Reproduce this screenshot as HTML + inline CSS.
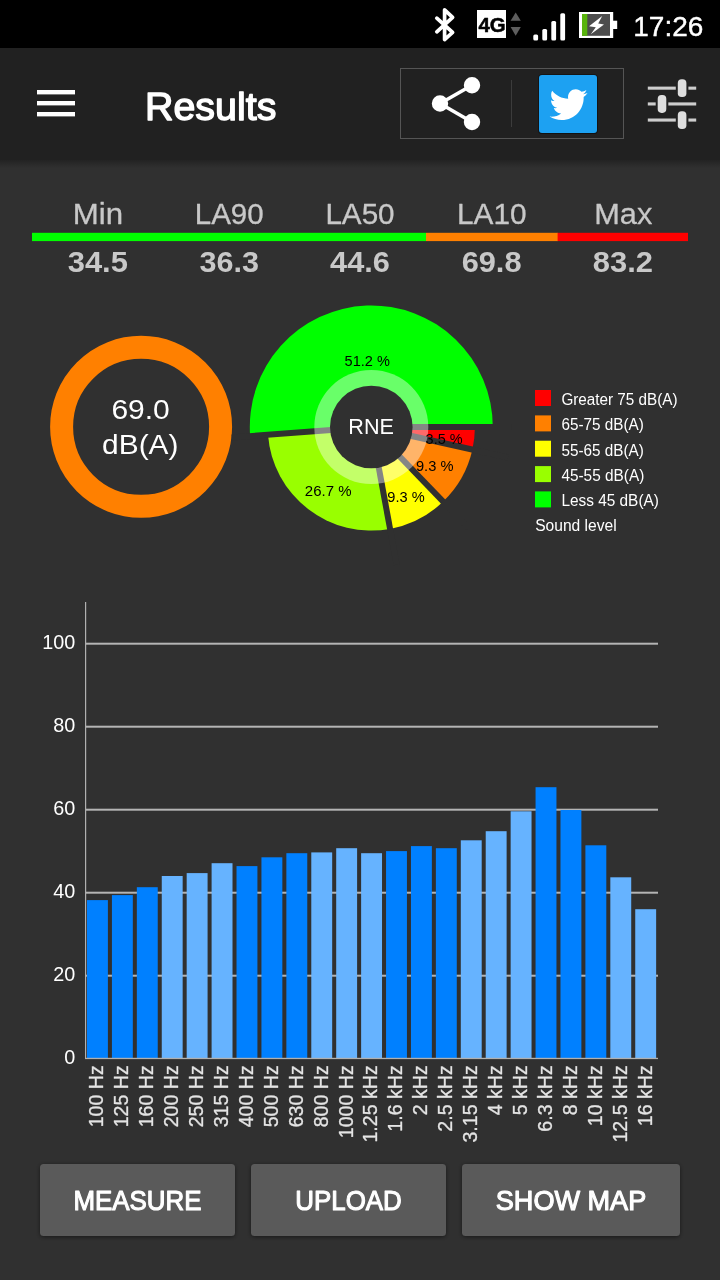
<!DOCTYPE html>
<html><head><meta charset="utf-8"><title>Results</title>
<style>
html,body{margin:0;padding:0;background:#303030;}
body{width:720px;height:1280px;overflow:hidden;}
svg{display:block;will-change:transform;font-family:"Liberation Sans",sans-serif;}
</style></head>
<body>
<svg width="720" height="1280" viewBox="0 0 720 1280">
<defs><linearGradient id="hshadow" x1="0" y1="0" x2="0" y2="1">
<stop offset="0" stop-color="#000" stop-opacity="0.28"/><stop offset="1" stop-color="#000" stop-opacity="0"/>
</linearGradient>
<filter id="bsh" x="-10%" y="-20%" width="120%" height="150%"><feGaussianBlur stdDeviation="2.2"/></filter></defs>
<rect x="0" y="0" width="720" height="1280" fill="#303030"/>
<g id="header">
<rect x="0" y="160" width="720" height="8" fill="url(#hshadow)"/>
<rect x="0" y="48" width="720" height="112" fill="#212121"/>
<rect x="37" y="90" width="38" height="4.4" fill="#fff"/>
<rect x="37" y="101" width="38" height="4.4" fill="#fff"/>
<rect x="37" y="112" width="38" height="4.4" fill="#fff"/>
<text x="145" y="120" font-size="39.4" fill="#fff" font-weight="normal" text-anchor="start" textLength="131.4" lengthAdjust="spacingAndGlyphs" stroke="#fff" stroke-width="1.4" stroke-linejoin="round">Results</text>
<rect x="400.5" y="68.5" width="223" height="70" fill="none" stroke="#555" stroke-width="1"/>
<rect x="511" y="80" width="1" height="47" fill="#3c3c3c"/>
<g stroke="#fff" stroke-width="3.6" fill="#fff"><line x1="440" y1="103.5" x2="472" y2="85.2"/><line x1="440" y1="103.5" x2="472" y2="122"/><circle cx="440" cy="103.5" r="6.4"/><circle cx="472" cy="85.2" r="6.4"/><circle cx="472" cy="122" r="6.4"/></g>
<rect x="538.2" y="74.3" width="59.6" height="59.8" rx="3.6" fill="#121212"/>
<rect x="539" y="75" width="58" height="58" rx="3" fill="#1da1f2"/>
<g id="bird" transform="translate(549.6,88.9) scale(1.58)"><path fill="#fff" d="M23.954 2.569c-.885.389-1.83.654-2.825.775 1.014-.611 1.794-1.574 2.163-2.723-.951.555-2.005.959-3.127 1.184-.896-.959-2.173-1.559-3.591-1.559-2.717 0-4.92 2.203-4.92 4.917 0 .39.045.765.127 1.124C7.691 6.094 4.066 4.13 1.64 1.161c-.427.722-.666 1.561-.666 2.475 0 1.71.87 3.213 2.188 4.096-.807-.026-1.566-.248-2.228-.616v.061c0 2.385 1.693 4.374 3.946 4.827-.413.111-.849.171-1.296.171-.314 0-.615-.03-.916-.086.631 1.953 2.445 3.377 4.604 3.417-1.68 1.319-3.809 2.105-6.102 2.105-.39 0-.779-.023-1.17-.067 2.189 1.394 4.768 2.209 7.557 2.209 9.054 0 13.999-7.496 13.999-13.986 0-.209 0-.42-.015-.63.961-.689 1.8-1.56 2.46-2.548z"/></g>
<g id="tune">
<rect x="647.8" y="86.6" width="48.4" height="3.1" fill="#cdcdcd"/>
<rect x="675.8" y="84.1" width="12.6" height="8" fill="#212121"/>
<rect x="677.8" y="79.3" width="8.6" height="17.8" rx="3.8" fill="#dedede"/>
<rect x="647.8" y="102.4" width="48.4" height="3.1" fill="#cdcdcd"/>
<rect x="655.7" y="99.9" width="12.6" height="8" fill="#212121"/>
<rect x="657.7" y="95.1" width="8.6" height="17.8" rx="3.8" fill="#dedede"/>
<rect x="647.8" y="118.5" width="48.4" height="3.1" fill="#cdcdcd"/>
<rect x="675.8" y="116.0" width="12.6" height="8" fill="#212121"/>
<rect x="677.8" y="111.2" width="8.6" height="17.8" rx="3.8" fill="#dedede"/>
</g>
</g>
<g id="status">
<rect x="0" y="0" width="720" height="48" fill="#000"/>
<path d="M436.8 18.2 L452.6 32.4 L444.6 39.6 L444.6 9.8 L452.6 17.4 L436.8 31.8" fill="none" stroke="#fff" stroke-width="3.7" stroke-linejoin="round" stroke-linecap="round"/>
<rect x="477" y="10" width="29" height="28" fill="#fff"/>
<text x="492.1" y="32.2" font-size="20.4" fill="#000" font-weight="bold" text-anchor="middle" textLength="27.2" lengthAdjust="spacingAndGlyphs" stroke="#000" stroke-width="0.5" stroke-linejoin="round">4G</text>
<path d="M510.6 20.8 L515.7 12.4 L520.8 20.8 Z" fill="#5e5e5e"/><path d="M510.6 27 L515.7 35.8 L520.8 27 Z" fill="#5e5e5e"/>
<rect x="533.3" y="34.5" width="4.8" height="6.100000000000001" rx="1.5" fill="#fff"/>
<rect x="542.3" y="29" width="4.8" height="11.600000000000001" rx="1.5" fill="#fff"/>
<rect x="551.3" y="21" width="4.8" height="19.6" rx="1.5" fill="#fff"/>
<rect x="560.3" y="13.3" width="4.8" height="27.3" rx="1.5" fill="#fff"/>
<rect x="579" y="12" width="34.2" height="26" fill="#fff"/>
<rect x="582" y="14" width="28" height="21.8" fill="#4d4d4d"/>
<rect x="613" y="20.7" width="4.2" height="8.3" fill="#fff"/>
<rect x="582" y="14" width="5.3" height="21.8" fill="#58b40c"/>
<path d="M602.2 16 L589 26.3 L595.8 27.2 L590.8 34.2 L604 24.6 L598.2 23.4 Z" fill="#fff"/>
<text x="633.3" y="35.5" font-size="27" fill="#fff" font-weight="normal" text-anchor="start" textLength="70" lengthAdjust="spacingAndGlyphs" stroke="#fff" stroke-width="0.4" stroke-linejoin="round">17:26</text>
</g>
<g id="stats">
<text x="97.9" y="224" font-size="29.4" fill="#c8c8c8" font-weight="normal" text-anchor="middle" textLength="50.3" lengthAdjust="spacingAndGlyphs" stroke="#c8c8c8" stroke-width="0.3" stroke-linejoin="round">Min</text>
<text x="229.2" y="224" font-size="29.4" fill="#c8c8c8" font-weight="normal" text-anchor="middle" textLength="68.9" lengthAdjust="spacingAndGlyphs" stroke="#c8c8c8" stroke-width="0.3" stroke-linejoin="round">LA90</text>
<text x="360.0" y="224" font-size="29.4" fill="#c8c8c8" font-weight="normal" text-anchor="middle" textLength="69.2" lengthAdjust="spacingAndGlyphs" stroke="#c8c8c8" stroke-width="0.3" stroke-linejoin="round">LA50</text>
<text x="491.8" y="224" font-size="29.4" fill="#c8c8c8" font-weight="normal" text-anchor="middle" textLength="69.6" lengthAdjust="spacingAndGlyphs" stroke="#c8c8c8" stroke-width="0.3" stroke-linejoin="round">LA10</text>
<text x="623.3" y="224" font-size="29.4" fill="#c8c8c8" font-weight="normal" text-anchor="middle" textLength="58.1" lengthAdjust="spacingAndGlyphs" stroke="#c8c8c8" stroke-width="0.3" stroke-linejoin="round">Max</text>
<text x="97.8" y="272.3" font-size="29" fill="#c8c8c8" font-weight="bold" text-anchor="middle" textLength="60.2" lengthAdjust="spacingAndGlyphs">34.5</text>
<text x="229.2" y="272.3" font-size="29" fill="#c8c8c8" font-weight="bold" text-anchor="middle" textLength="59.5" lengthAdjust="spacingAndGlyphs">36.3</text>
<text x="360.0" y="272.3" font-size="29" fill="#c8c8c8" font-weight="bold" text-anchor="middle" textLength="59.8" lengthAdjust="spacingAndGlyphs">44.6</text>
<text x="491.6" y="272.3" font-size="29" fill="#c8c8c8" font-weight="bold" text-anchor="middle" textLength="59.9" lengthAdjust="spacingAndGlyphs">69.8</text>
<text x="622.9" y="272.3" font-size="29" fill="#c8c8c8" font-weight="bold" text-anchor="middle" textLength="60.2" lengthAdjust="spacingAndGlyphs">83.2</text>
<rect x="32" y="232.8" width="394" height="8.3" fill="#00ff00"/>
<rect x="426" y="232.8" width="132" height="8.3" fill="#ff8000"/>
<rect x="557.6" y="232.8" width="130.4" height="8.3" fill="#ff0000"/>
</g>
<g id="donut">
<circle cx="141.1" cy="426.8" r="79.5" fill="none" stroke="#ff8000" stroke-width="23"/>
<text x="140.6" y="419.2" font-size="27" fill="#fff" font-weight="normal" text-anchor="middle" textLength="58.4" lengthAdjust="spacingAndGlyphs">69.0</text>
<text x="140.3" y="454.2" font-size="27.3" fill="#fff" font-weight="normal" text-anchor="middle" textLength="76.4" lengthAdjust="spacingAndGlyphs">dB(A)</text>
</g>
<g id="pie">
<path d="M371.3 427.0 L474.90 427.00 A103.6 103.6 0 0 1 472.40 449.60 Z" fill="#ff0000"/>
<path d="M371.3 427.0 L472.40 449.60 A103.6 103.6 0 0 1 443.16 501.62 Z" fill="#ff8000"/>
<path d="M371.3 427.0 L443.16 501.62 A103.6 103.6 0 0 1 390.07 528.88 Z" fill="#ffff00"/>
<path d="M371.3 427.0 L390.07 528.88 A103.6 103.6 0 0 1 267.99 434.80 Z" fill="#99ff00"/>
<path d="M371.3 427.0 L250.15 436.15 A121.5 121.5 0 1 1 492.80 427.00 Z" fill="#00ff00"/>
<line x1="371.3" y1="427.0" x2="511.30" y2="427.00" stroke="#303030" stroke-width="6"/>
<line x1="371.3" y1="427.0" x2="507.93" y2="457.54" stroke="#303030" stroke-width="6"/>
<line x1="371.3" y1="427.0" x2="468.41" y2="527.84" stroke="#303030" stroke-width="6"/>
<line x1="371.3" y1="427.0" x2="396.67" y2="564.68" stroke="#303030" stroke-width="6"/>
<line x1="371.3" y1="427.0" x2="231.70" y2="437.55" stroke="#303030" stroke-width="6"/>
<circle cx="371.3" cy="427.0" r="57" fill="#fff" fill-opacity="0.41"/>
<circle cx="371.3" cy="427.0" r="41.3" fill="#303030"/>
<text x="371.1" y="434.4" font-size="22.3" fill="#fff" font-weight="normal" text-anchor="middle" textLength="45.6" lengthAdjust="spacingAndGlyphs">RNE</text>
<text x="367.2" y="365.6" font-size="14.5" fill="#000" font-weight="normal" text-anchor="middle" textLength="45.3" lengthAdjust="spacingAndGlyphs">51.2 %</text>
<text x="328.2" y="495.6" font-size="14.5" fill="#000" font-weight="normal" text-anchor="middle" textLength="46.7" lengthAdjust="spacingAndGlyphs">26.7 %</text>
<text x="406.0" y="501.7" font-size="14.5" fill="#000" font-weight="normal" text-anchor="middle" textLength="37.3" lengthAdjust="spacingAndGlyphs">9.3 %</text>
<text x="434.7" y="471.1" font-size="14.5" fill="#000" font-weight="normal" text-anchor="middle" textLength="37.5" lengthAdjust="spacingAndGlyphs">9.3 %</text>
<text x="444.1" y="443.6" font-size="14.5" fill="#000" font-weight="normal" text-anchor="middle" textLength="37.0" lengthAdjust="spacingAndGlyphs">3.5 %</text>
</g>
<g id="legend">
<rect x="535" y="390.0" width="16" height="16" fill="#ff0000"/>
<text x="561.4" y="405.0" font-size="15.6" fill="#fff" font-weight="normal" text-anchor="start" textLength="116.2" lengthAdjust="spacingAndGlyphs">Greater 75 dB(A)</text>
<rect x="535" y="415.4" width="16" height="16" fill="#ff8000"/>
<text x="561.4" y="430.4" font-size="15.6" fill="#fff" font-weight="normal" text-anchor="start" textLength="82.4" lengthAdjust="spacingAndGlyphs">65-75 dB(A)</text>
<rect x="535" y="440.7" width="16" height="16" fill="#ffff00"/>
<text x="561.4" y="455.7" font-size="15.6" fill="#fff" font-weight="normal" text-anchor="start" textLength="82.4" lengthAdjust="spacingAndGlyphs">55-65 dB(A)</text>
<rect x="535" y="466.1" width="16" height="16" fill="#99ff00"/>
<text x="561.4" y="481.1" font-size="15.6" fill="#fff" font-weight="normal" text-anchor="start" textLength="82.9" lengthAdjust="spacingAndGlyphs">45-55 dB(A)</text>
<rect x="535" y="491.4" width="16" height="16" fill="#00ff00"/>
<text x="561.4" y="506.4" font-size="15.6" fill="#fff" font-weight="normal" text-anchor="start" textLength="97.5" lengthAdjust="spacingAndGlyphs">Less 45 dB(A)</text>
<text x="535.2" y="531" font-size="15.6" fill="#fff" font-weight="normal" text-anchor="start" textLength="81.5" lengthAdjust="spacingAndGlyphs">Sound level</text>
</g>
<g id="chart">
<rect x="86.0" y="974.7" width="572.0" height="2" fill="#b4b4b4"/>
<rect x="86.0" y="891.7" width="572.0" height="2" fill="#b4b4b4"/>
<rect x="86.0" y="808.7" width="572.0" height="2" fill="#b4b4b4"/>
<rect x="86.0" y="725.7" width="572.0" height="2" fill="#b4b4b4"/>
<rect x="86.0" y="642.7" width="572.0" height="2" fill="#b4b4b4"/>
<text x="75.3" y="1064.0" font-size="19.8" fill="#fff" font-weight="normal" text-anchor="end">0</text>
<text x="75.3" y="981.0" font-size="19.8" fill="#fff" font-weight="normal" text-anchor="end">20</text>
<text x="75.3" y="898.0" font-size="19.8" fill="#fff" font-weight="normal" text-anchor="end">40</text>
<text x="75.3" y="815.0" font-size="19.8" fill="#fff" font-weight="normal" text-anchor="end">60</text>
<text x="75.3" y="732.0" font-size="19.8" fill="#fff" font-weight="normal" text-anchor="end">80</text>
<text x="75.3" y="649.0" font-size="19.8" fill="#fff" font-weight="normal" text-anchor="end">100</text>
<rect x="85" y="602" width="1.2" height="457" fill="#b0b0b0"/>
<rect x="87.00" y="900.1" width="20.9" height="158.1" fill="#0080ff"/>
<text x="0" y="0" font-size="19.6" fill="#e4e4e4" font-weight="normal" text-anchor="end" transform="translate(103.2,1065.2) rotate(-90)" stroke="#e4e4e4" stroke-width="0.3" stroke-linejoin="round">100 Hz</text>
<rect x="111.92" y="895.1" width="20.9" height="163.1" fill="#0080ff"/>
<text x="0" y="0" font-size="19.6" fill="#e4e4e4" font-weight="normal" text-anchor="end" transform="translate(128.2,1065.2) rotate(-90)" stroke="#e4e4e4" stroke-width="0.3" stroke-linejoin="round">125 Hz</text>
<rect x="136.84" y="887.2" width="20.9" height="171.0" fill="#0080ff"/>
<text x="0" y="0" font-size="19.6" fill="#e4e4e4" font-weight="normal" text-anchor="end" transform="translate(153.1,1065.2) rotate(-90)" stroke="#e4e4e4" stroke-width="0.3" stroke-linejoin="round">160 Hz</text>
<rect x="161.76" y="876.0" width="20.9" height="182.2" fill="#66b3ff"/>
<text x="0" y="0" font-size="19.6" fill="#e4e4e4" font-weight="normal" text-anchor="end" transform="translate(178.0,1065.2) rotate(-90)" stroke="#e4e4e4" stroke-width="0.3" stroke-linejoin="round">200 Hz</text>
<rect x="186.68" y="873.1" width="20.9" height="185.1" fill="#66b3ff"/>
<text x="0" y="0" font-size="19.6" fill="#e4e4e4" font-weight="normal" text-anchor="end" transform="translate(202.9,1065.2) rotate(-90)" stroke="#e4e4e4" stroke-width="0.3" stroke-linejoin="round">250 Hz</text>
<rect x="211.60" y="863.2" width="20.9" height="195.0" fill="#66b3ff"/>
<text x="0" y="0" font-size="19.6" fill="#e4e4e4" font-weight="normal" text-anchor="end" transform="translate(227.9,1065.2) rotate(-90)" stroke="#e4e4e4" stroke-width="0.3" stroke-linejoin="round">315 Hz</text>
<rect x="236.52" y="866.1" width="20.9" height="192.1" fill="#0080ff"/>
<text x="0" y="0" font-size="19.6" fill="#e4e4e4" font-weight="normal" text-anchor="end" transform="translate(252.8,1065.2) rotate(-90)" stroke="#e4e4e4" stroke-width="0.3" stroke-linejoin="round">400 Hz</text>
<rect x="261.44" y="857.3" width="20.9" height="200.9" fill="#0080ff"/>
<text x="0" y="0" font-size="19.6" fill="#e4e4e4" font-weight="normal" text-anchor="end" transform="translate(277.7,1065.2) rotate(-90)" stroke="#e4e4e4" stroke-width="0.3" stroke-linejoin="round">500 Hz</text>
<rect x="286.36" y="853.2" width="20.9" height="205.0" fill="#0080ff"/>
<text x="0" y="0" font-size="19.6" fill="#e4e4e4" font-weight="normal" text-anchor="end" transform="translate(302.6,1065.2) rotate(-90)" stroke="#e4e4e4" stroke-width="0.3" stroke-linejoin="round">630 Hz</text>
<rect x="311.28" y="852.4" width="20.9" height="205.8" fill="#66b3ff"/>
<text x="0" y="0" font-size="19.6" fill="#e4e4e4" font-weight="normal" text-anchor="end" transform="translate(327.5,1065.2) rotate(-90)" stroke="#e4e4e4" stroke-width="0.3" stroke-linejoin="round">800 Hz</text>
<rect x="336.20" y="848.2" width="20.9" height="210.0" fill="#66b3ff"/>
<text x="0" y="0" font-size="19.6" fill="#e4e4e4" font-weight="normal" text-anchor="end" transform="translate(352.5,1065.2) rotate(-90)" stroke="#e4e4e4" stroke-width="0.3" stroke-linejoin="round">1000 Hz</text>
<rect x="361.12" y="853.2" width="20.9" height="205.0" fill="#66b3ff"/>
<text x="0" y="0" font-size="19.6" fill="#e4e4e4" font-weight="normal" text-anchor="end" transform="translate(377.4,1065.2) rotate(-90)" stroke="#e4e4e4" stroke-width="0.3" stroke-linejoin="round">1.25 kHz</text>
<rect x="386.04" y="851.1" width="20.9" height="207.1" fill="#0080ff"/>
<text x="0" y="0" font-size="19.6" fill="#e4e4e4" font-weight="normal" text-anchor="end" transform="translate(402.3,1065.2) rotate(-90)" stroke="#e4e4e4" stroke-width="0.3" stroke-linejoin="round">1.6 kHz</text>
<rect x="410.96" y="846.1" width="20.9" height="212.1" fill="#0080ff"/>
<text x="0" y="0" font-size="19.6" fill="#e4e4e4" font-weight="normal" text-anchor="end" transform="translate(427.2,1065.2) rotate(-90)" stroke="#e4e4e4" stroke-width="0.3" stroke-linejoin="round">2 kHz</text>
<rect x="435.88" y="848.2" width="20.9" height="210.0" fill="#0080ff"/>
<text x="0" y="0" font-size="19.6" fill="#e4e4e4" font-weight="normal" text-anchor="end" transform="translate(452.1,1065.2) rotate(-90)" stroke="#e4e4e4" stroke-width="0.3" stroke-linejoin="round">2.5 kHz</text>
<rect x="460.80" y="840.3" width="20.9" height="217.9" fill="#66b3ff"/>
<text x="0" y="0" font-size="19.6" fill="#e4e4e4" font-weight="normal" text-anchor="end" transform="translate(477.1,1065.2) rotate(-90)" stroke="#e4e4e4" stroke-width="0.3" stroke-linejoin="round">3.15 kHz</text>
<rect x="485.72" y="831.2" width="20.9" height="227.0" fill="#66b3ff"/>
<text x="0" y="0" font-size="19.6" fill="#e4e4e4" font-weight="normal" text-anchor="end" transform="translate(502.0,1065.2) rotate(-90)" stroke="#e4e4e4" stroke-width="0.3" stroke-linejoin="round">4 kHz</text>
<rect x="510.64" y="811.3" width="20.9" height="246.9" fill="#66b3ff"/>
<text x="0" y="0" font-size="19.6" fill="#e4e4e4" font-weight="normal" text-anchor="end" transform="translate(526.9,1065.2) rotate(-90)" stroke="#e4e4e4" stroke-width="0.3" stroke-linejoin="round">5 kHz</text>
<rect x="535.56" y="787.2" width="20.9" height="271.0" fill="#0080ff"/>
<text x="0" y="0" font-size="19.6" fill="#e4e4e4" font-weight="normal" text-anchor="end" transform="translate(551.8,1065.2) rotate(-90)" stroke="#e4e4e4" stroke-width="0.3" stroke-linejoin="round">6.3 kHz</text>
<rect x="560.48" y="810.0" width="20.9" height="248.2" fill="#0080ff"/>
<text x="0" y="0" font-size="19.6" fill="#e4e4e4" font-weight="normal" text-anchor="end" transform="translate(576.7,1065.2) rotate(-90)" stroke="#e4e4e4" stroke-width="0.3" stroke-linejoin="round">8 kHz</text>
<rect x="585.40" y="845.3" width="20.9" height="212.9" fill="#0080ff"/>
<text x="0" y="0" font-size="19.6" fill="#e4e4e4" font-weight="normal" text-anchor="end" transform="translate(601.7,1065.2) rotate(-90)" stroke="#e4e4e4" stroke-width="0.3" stroke-linejoin="round">10 kHz</text>
<rect x="610.32" y="877.3" width="20.9" height="180.9" fill="#66b3ff"/>
<text x="0" y="0" font-size="19.6" fill="#e4e4e4" font-weight="normal" text-anchor="end" transform="translate(626.6,1065.2) rotate(-90)" stroke="#e4e4e4" stroke-width="0.3" stroke-linejoin="round">12.5 kHz</text>
<rect x="635.24" y="909.2" width="20.9" height="149.0" fill="#66b3ff"/>
<text x="0" y="0" font-size="19.6" fill="#e4e4e4" font-weight="normal" text-anchor="end" transform="translate(651.5,1065.2) rotate(-90)" stroke="#e4e4e4" stroke-width="0.3" stroke-linejoin="round">16 kHz</text>
<rect x="85" y="1057.8" width="573.0" height="1.3" fill="#b0b0b0"/>
</g>
<g id="buttons">
<rect x="40" y="1165" width="195" height="72" rx="4" fill="#000" fill-opacity="0.5" filter="url(#bsh)"/>
<rect x="40" y="1164" width="195" height="72" rx="3.5" fill="#5a5a5a"/>
<text x="137.5" y="1210" font-size="27.5" fill="#fff" font-weight="normal" text-anchor="middle" textLength="128" lengthAdjust="spacingAndGlyphs" stroke="#fff" stroke-width="1.1" stroke-linejoin="round">MEASURE</text>
<rect x="251" y="1165" width="195" height="72" rx="4" fill="#000" fill-opacity="0.5" filter="url(#bsh)"/>
<rect x="251" y="1164" width="195" height="72" rx="3.5" fill="#5a5a5a"/>
<text x="348.5" y="1210" font-size="27.5" fill="#fff" font-weight="normal" text-anchor="middle" textLength="106.5" lengthAdjust="spacingAndGlyphs" stroke="#fff" stroke-width="1.1" stroke-linejoin="round">UPLOAD</text>
<rect x="462" y="1165" width="218" height="72" rx="4" fill="#000" fill-opacity="0.5" filter="url(#bsh)"/>
<rect x="462" y="1164" width="218" height="72" rx="3.5" fill="#5a5a5a"/>
<text x="571.0" y="1210" font-size="27.5" fill="#fff" font-weight="normal" text-anchor="middle" textLength="150.5" lengthAdjust="spacingAndGlyphs" stroke="#fff" stroke-width="1.1" stroke-linejoin="round">SHOW MAP</text>
</g>
</svg>
</body></html>
